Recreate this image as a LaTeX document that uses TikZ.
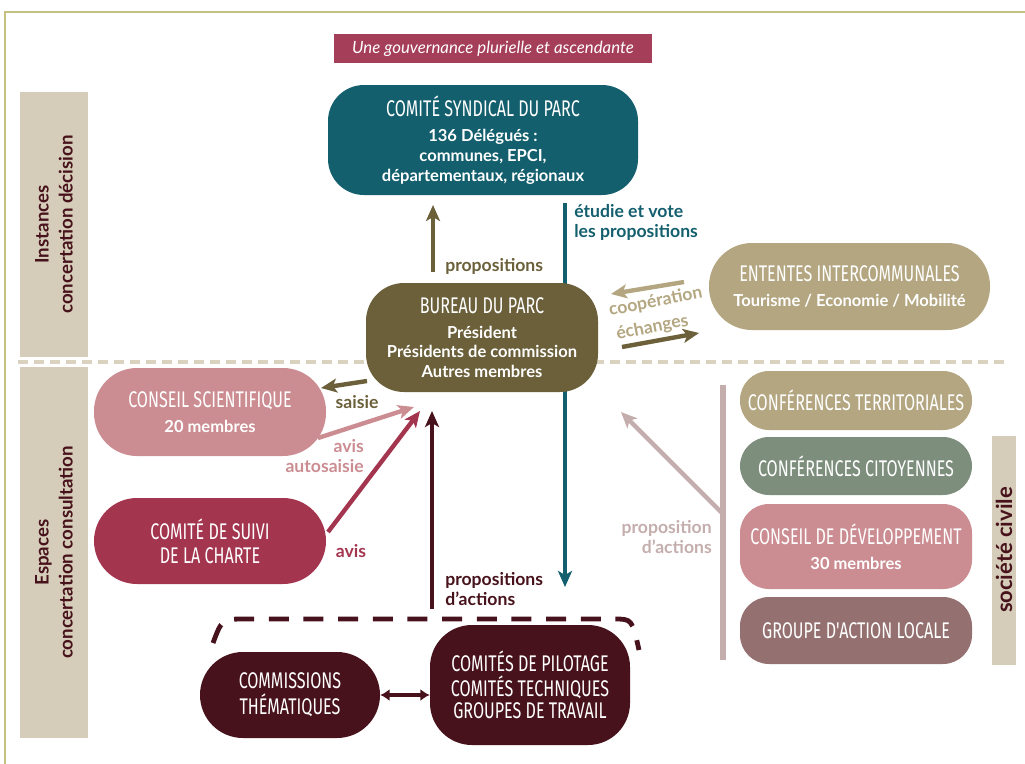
\documentclass[tikz,border=0pt]{standalone}
\usepackage{fontspec}
\setmainfont{Lato}
\newfontfamily\headfont{Fira Sans}[FakeStretch=0.71]
\usetikzlibrary{arrows.meta, positioning, calc}

\definecolor{framegreen}{HTML}{C5C27F}
\definecolor{titlered}{HTML}{A53F59}
\definecolor{parcteal}{HTML}{135F6E}
\definecolor{parcolive}{HTML}{6B603A}
\definecolor{parckhaki}{HTML}{B3A681}
\definecolor{parcpink}{HTML}{CB8D92}
\definecolor{parccrimson}{HTML}{A3354F}
\definecolor{parcmaroon}{HTML}{47121B}
\definecolor{parcsage}{HTML}{7D8E7D}
\definecolor{parcmauve}{HTML}{947170}
\definecolor{labelbeige}{HTML}{D5CDB9}
\definecolor{dashbeige}{HTML}{D9D2BE}
\definecolor{greypink}{HTML}{C4AEAD}

\newcommand{\pxu}{0.75pt}
\newcommand{\hd}[1]{{\headfont\mdseries\fontsize{17}{19}\selectfont #1}}

\tikzset{
  box/.style={fill=#1, text=white, align=center, inner sep=0pt,
    font=\bfseries\fontsize{12.4}{14.8}\selectfont},
  side/.style={fill=labelbeige, text=parcmaroon, rotate=90, align=center,
    inner sep=0pt, font=\bfseries\fontsize{14}{18}\selectfont},
  arr/.style={draw=#1, line width=3.3pt,
    -{Stealth[length=12pt, width=10.5pt, inset=3pt]}},
  lbl/.style={text=#1, inner sep=0pt, font=\bfseries\fontsize{13.2}{15}\selectfont},
}

\begin{document}
\begin{tikzpicture}[x=0.75pt, y=-0.75pt]
  \useasboundingbox (0,0) rectangle (1025,764);
  % frame
  \draw[framegreen, line width=2.2pt] (5,764) -- (5,12) -- (1025,12);

  \node[fill=titlered, text=white, minimum width=318*\pxu, minimum height=29*\pxu,
    font=\itshape\fontsize{12.6}{14}\selectfont] (titre) at (493,48.5)
    {Une gouvernance plurielle et ascendante};

  % side labels
  \node[side, minimum width=265*\pxu, minimum height=68*\pxu] (instances) at (54,224.5)
    {Instances\\concertation décision};
  \node[side, minimum width=371*\pxu, minimum height=68*\pxu] (espaces) at (54,552.5)
    {Espaces\\concertation consultation};
  \node[side, minimum width=229*\pxu, minimum height=24*\pxu,
    font=\bfseries\fontsize{16.5}{18}\selectfont] (civile) at (1004,550) {société civile};

  \draw[dashbeige, line width=2.4pt, dash pattern=on 7.5pt off 4.5pt] (18,362) -- (1005,362);

  % arrows (behind the boxes)
  \coordinate (prop0) at (433,272);
  \coordinate (prop1) at (433,205);
  \coordinate (vote0) at (565,203);
  \coordinate (vote1) at (565,587);
  \coordinate (coop0) at (684,282);
  \coordinate (coop1) at (611,294);
  \coordinate (ech0) at (622,347);
  \coordinate (ech1) at (699,333);
  \coordinate (sais0) at (367,381);
  \coordinate (sais1) at (321,388);
  \coordinate (auto0) at (318,438);
  \coordinate (auto1) at (414,407);
  \coordinate (avis0) at (328,532);
  \coordinate (avis1) at (420,411);
  \coordinate (act0) at (432,609);
  \coordinate (act1) at (432,411);
  \coordinate (civ0) at (723,385);
  \coordinate (civ1) at (723,660);
  \coordinate (civj) at (723,514);
  \coordinate (civ2) at (621,412);

  \draw[arr=parcolive] (prop0) -- (prop1);
  \draw[arr=parcteal, line width=3pt] (vote0) -- (vote1);
  \draw[arr=parckhaki] (coop0) -- (coop1);
  \draw[arr=parcolive] (ech0) -- (ech1);
  \draw[arr=parcolive] (sais0) -- (sais1);
  \draw[arr=parcpink] (auto0) -- (auto1);
  \draw[arr=parccrimson] (avis0) -- (avis1);
  \draw[arr=parcmaroon] (act0) -- (act1);
  \draw[greypink, line width=4pt] (civ0) -- (civ1);
  \draw[arr=greypink] (civj) -- (civ2);
  \draw[parcmaroon, line width=3.6pt, dash pattern=on 15pt off 11pt]
    (213,643) .. controls (222,619) .. (246,619) -- (614,619) .. controls (632,619) .. (639,650);

  % decision
  \node[box=parcteal, minimum width=310*\pxu, minimum height=110*\pxu,
    rounded corners=36*\pxu] (syndical) at (483,140)
    {\hd{COMITÉ SYNDICAL DU PARC}\\[4pt]136 Délégués :\\communes, EPCI,\\départementaux, régionaux};
  \node[box=parcolive, minimum width=232*\pxu, minimum height=109*\pxu,
    rounded corners=38*\pxu] (bureau) at (482,337.5)
    {\hd{BUREAU DU PARC}\\[4pt]Président\\Présidents de commission\\Autres membres};
  \node[box=parckhaki, minimum width=281*\pxu, minimum height=87*\pxu,
    rounded corners=43*\pxu] (ententes) at (849.5,286.5)
    {\hd{ENTENTES INTERCOMMUNALES}\\[4pt]Tourisme / Economie / Mobilité};

  % consultation
  \node[box=parcpink, minimum width=232*\pxu, minimum height=88*\pxu,
    rounded corners=43*\pxu] (scientifique) at (210,412)
    {\hd{CONSEIL SCIENTIFIQUE}\\[4pt]20 membres};
  \node[box=parccrimson, minimum width=232*\pxu, minimum height=86*\pxu,
    rounded corners=43*\pxu] (suivi) at (210,541)
    {\hd{COMITÉ DE SUIVI}\\[3pt]\hd{DE LA CHARTE}};
  \node[box=parcmaroon, minimum width=180*\pxu, minimum height=86*\pxu,
    rounded corners=43*\pxu] (commissions) at (290,695)
    {\hd{COMMISSIONS}\\[3pt]\hd{THÉMATIQUES}};
  \node[box=parcmaroon, minimum width=200*\pxu, minimum height=120*\pxu,
    rounded corners=42*\pxu] (pilotage) at (530,685)
    {\hd{COMITÉS DE PILOTAGE}\\[2pt]\hd{COMITÉS TECHNIQUES}\\[2pt]\hd{GROUPES DE TRAVAIL}};
  \draw[parcmaroon, line width=2.4pt, {Latex[length=7pt,width=9pt]}-{Latex[length=7pt,width=9pt]}]
    (commissions.east) -- (commissions.east -| pilotage.west);

  % societe civile
  \foreach \n/\c/\y/\h/\t in {
      territoriales/parckhaki/400.5/59/{\hd{CONFÉRENCES TERRITORIALES}},
      citoyennes/parcsage/466/58/{\hd{CONFÉRENCES CITOYENNES}},
      developpement/parcpink/546.5/85/{\hd{CONSEIL DE DÉVELOPPEMENT}\\[4pt]30 membres},
      gal/parcmauve/630.5/67/{\hd{GROUPE D'ACTION LOCALE}}}{
    \node[box=\c, minimum width=232*\pxu, minimum height=\h*\pxu,
      rounded corners=29*\pxu] (\n) at (856,\y) {\t};
  }

  % labels
  \node[lbl=parcolive, anchor=west] (lprop) at (445,266) {propositions};
  \node[lbl=parcteal, anchor=west, align=left] (lvote) at (574,222)
    {étudie et vote\\les propositions};
  \node[lbl=parckhaki, rotate=11, align=left,
    font=\bfseries\fontsize{13.2}{18.5}\selectfont] (lcoop) at (658,314)
    {coopération\\\hspace*{2pt}échanges};
  \node[lbl=parcolive] (lsais) at (357,402) {saisie};
  \node[lbl=parcpink, anchor=east, align=right] (lauto) at (364,456) {avis\\autosaisie};
  \node[lbl=parccrimson] (lavis) at (351,551) {avis};
  \node[lbl=parcmaroon, anchor=west, align=left] (lact) at (445,589)
    {propositions\\d'actions};
  \node[lbl=greypink, anchor=east, align=right] (lciv) at (712,537)
    {proposition\\d'actions};
\end{tikzpicture}
\end{document}
